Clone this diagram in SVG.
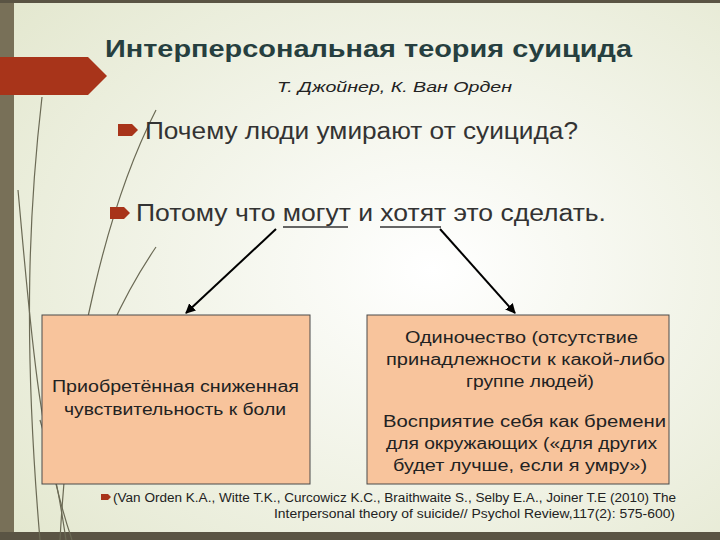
<svg xmlns="http://www.w3.org/2000/svg" width="720" height="540" viewBox="0 0 720 540">
<defs>
<radialGradient id="bg" cx="0.6" cy="0.5" r="0.75">
<stop offset="0" stop-color="#ffffff"/>
<stop offset="1" stop-color="#e4e8d0"/>
</radialGradient>
<marker id="ah" viewBox="0 0 10 10" refX="9" refY="5" markerWidth="5" markerHeight="5" orient="auto"><path d="M0,0 L10,5 L0,10 z" fill="#000"/></marker>
</defs>
<style>
.box{fill:#f8c49c;stroke:#4a4a4a;stroke-width:1}
.t{font-family:"Liberation Sans",sans-serif;fill:#222}
.g{fill:none;stroke:#6b6a55;stroke-width:1.2}
</style>
<rect width="720" height="540" fill="url(#bg)"/>
<rect x="0" y="0" width="14" height="540" fill="#787058"/>
<rect x="0" y="0" width="720" height="3" fill="#5a5444"/>
<rect x="0" y="532" width="720" height="8" fill="#5a5444"/>
<g id="grass">
<path class="g" d="M42,97 C30,200 22,330 40,540"/>
<path class="g" d="M18,190 C30,320 38,440 72,540" stroke-width="2"/>
<path class="g" d="M156,110 C110,200 70,350 60,540" stroke="#c8c8b0"/>
<path class="g" d="M156,247 C120,300 95,360 85,400"/>
<path class="g" d="M40,420 C55,470 60,500 66,540" stroke-width="2.5"/>
</g>
<polygon points="0,57 88,57 107,76 88,95 0,95" fill="#a8341a"/>
<text class="t" x="105" y="57" font-size="23" font-weight="bold" textLength="527" lengthAdjust="spacingAndGlyphs" style="fill:#263f3f">Интерперсональная теория суицида</text>
<text class="t" x="277" y="92" font-size="15" font-style="italic" textLength="235" lengthAdjust="spacingAndGlyphs">Т. Джойнер, К. Ван Орден</text>
<g id="b1"><polygon points="118,124 132,124 138,130 132,136 118,136" fill="#a8341a"/>
<text class="t" x="145" y="139" font-size="23" textLength="433" lengthAdjust="spacingAndGlyphs" style="fill:#333">Почему люди умирают от суицида?</text></g>
<g id="b2"><polygon points="110,207 124,207 130,213 124,219 110,219" fill="#a8341a"/>
<text class="t" x="136" y="221" font-size="23" textLength="470" lengthAdjust="spacingAndGlyphs" style="fill:#333">Потому что могут и хотят это сделать.</text>
<g stroke="#333" stroke-width="1.5"><line x1="283" y1="227" x2="348" y2="227"/><line x1="380" y1="227" x2="441" y2="227"/></g></g>
<g id="connectors" stroke="#000" stroke-width="2">
<line x1="276" y1="229" x2="186" y2="313" marker-end="url(#ah)"/>
<line x1="440" y1="229" x2="515" y2="313" marker-end="url(#ah)"/>
</g>
<g id="left"><rect class="box" x="42" y="315" width="268" height="169"/>
<text class="t" font-size="16" x="52" y="392" textLength="247" lengthAdjust="spacingAndGlyphs">Приобретённая сниженная</text>
<text class="t" font-size="16" x="64" y="415" textLength="222" lengthAdjust="spacingAndGlyphs">чувствительность к боли</text></g>
<g id="right"><rect class="box" x="367" y="315" width="302" height="169"/>
<g class="t" font-size="16">
<text class="t" x="405" y="343" textLength="233" lengthAdjust="spacingAndGlyphs">Одиночество (отсутствие</text>
<text class="t" x="386" y="365" textLength="279" lengthAdjust="spacingAndGlyphs">принадлежности к какой-либо</text>
<text class="t" x="466" y="387" textLength="128" lengthAdjust="spacingAndGlyphs">группе людей)</text>
<text class="t" x="383" y="427" textLength="283" lengthAdjust="spacingAndGlyphs">Восприятие себя как бремени</text>
<text class="t" x="386" y="449" textLength="271" lengthAdjust="spacingAndGlyphs">для окружающих («для других</text>
<text class="t" x="393" y="471" textLength="254" lengthAdjust="spacingAndGlyphs">будет лучше, если я умру»)</text>
</g></g>
<g id="ref"><polygon points="101,494 108,494 111,497 108,500 101,500" fill="#a8341a"/>
<text class="t" font-size="12" x="113" y="502" textLength="563" lengthAdjust="spacingAndGlyphs">(Van Orden K.A., Witte T.K., Curcowicz K.C., Braithwaite S., Selby E.A., Joiner T.E  (2010) The</text>
<text class="t" font-size="12" x="274" y="518" textLength="401" lengthAdjust="spacingAndGlyphs">Interpersonal theory of suicide// Psychol Review,117(2): 575-600)</text></g>
</svg>
